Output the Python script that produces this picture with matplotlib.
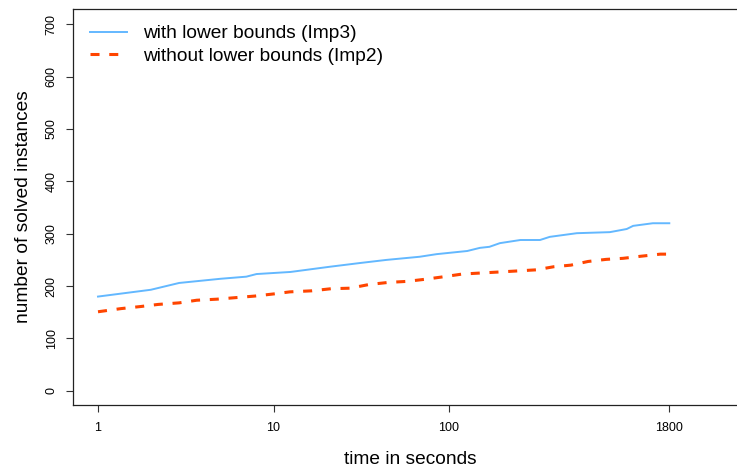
import numpy as np
import matplotlib
matplotlib.use("Agg")
from matplotlib import pyplot as plt

# solved-instance counts over time (seconds, log scale)
time_imp3 = [1, 2, 2.9, 5, 7, 8, 10, 12.5, 21, 31, 44, 68, 85, 127, 150,
             170, 195, 255, 330, 375, 535, 825, 1030, 1120, 1450, 1800]
solved_imp3 = [180, 193, 206, 214, 218, 223, 225, 227, 237, 244, 250, 256, 261,
               267, 273, 275, 282, 288, 288, 294, 301, 303, 309, 315, 320, 320]

time_imp2 = [1, 1.35, 1.75, 2.2, 2.9, 3.65, 4.75, 6.1, 7.85, 10, 12.4, 16.6,
             21.3, 27.3, 35, 45, 57.6, 73, 94, 119, 152, 195, 247, 313, 396,
             495, 620, 785, 980, 1240, 1600, 1800]
solved_imp2 = [151, 157, 161, 165, 168, 173, 175, 178, 181, 185, 189, 191, 195,
               196, 203, 207, 209, 213, 218, 223, 225, 227, 229, 231, 237, 240,
               247, 251, 253, 257, 261, 261]

x_ticks = [1, 10, 100, 1800]
y_ticks = [0, 100, 200, 300, 400, 500, 600, 700]

plt.rcParams['font.family'] = ['Liberation Sans', 'DejaVu Sans']
plt.rcParams['lines.scale_dashes'] = False

W, H = 737, 471
fig = plt.figure(figsize=(W / 100, H / 100), dpi=100)
# plot region runs past the right edge of the figure
ax = fig.add_axes([73 / W, (H - 405) / H, (747 - 73) / W, (405 - 9) / H])

ax.plot(time_imp3, solved_imp3, color='#63B8FF', lw=1.4,
        label='with lower bounds (Imp3)')
ax.plot(time_imp2, solved_imp2, color='#FF4500', lw=2.2, dashes=(6.5, 7),
        label='without lower bounds (Imp2)')

ax.set_xscale('log')
ax.set_xlim(10 ** -0.1425, 10 ** 3.698)
ax.set_ylim(-27, 729)
ax.set_xticks(x_ticks)
ax.set_xticklabels([str(t) for t in x_ticks])
ax.xaxis.set_minor_locator(matplotlib.ticker.NullLocator())
ax.set_yticks(y_ticks)
ax.set_yticklabels([str(v) for v in y_ticks], rotation=90, va='center')

ax.tick_params(axis='both', direction='out', length=5, width=0.8,
               labelsize=9, color='#333333')
ax.tick_params(axis='x', pad=7)
ax.tick_params(axis='y', pad=6)
for sp in ax.spines.values():
    sp.set_linewidth(0.9)
    sp.set_color('#222222')

ax.set_xlabel('time in seconds', fontsize=13.75)
ax.xaxis.label.set_va('center')
ax.xaxis.set_label_coords(0.5, (405 - 460) / 396)
ax.set_ylabel('number of solved instances', fontsize=13.75)
ax.yaxis.label.set_va('center')
ax.yaxis.set_label_coords((23 - 73) / 674, 0.5)

ax.legend(loc='upper left', bbox_to_anchor=(90 / W, 1 - 25 / H),
          bbox_transform=fig.transFigure, frameon=False, fontsize=13.75,
          borderpad=0, borderaxespad=0, handlelength=1.94,
          handletextpad=0.84, labelspacing=0.26)

fig.savefig('out.png', dpi=100)
